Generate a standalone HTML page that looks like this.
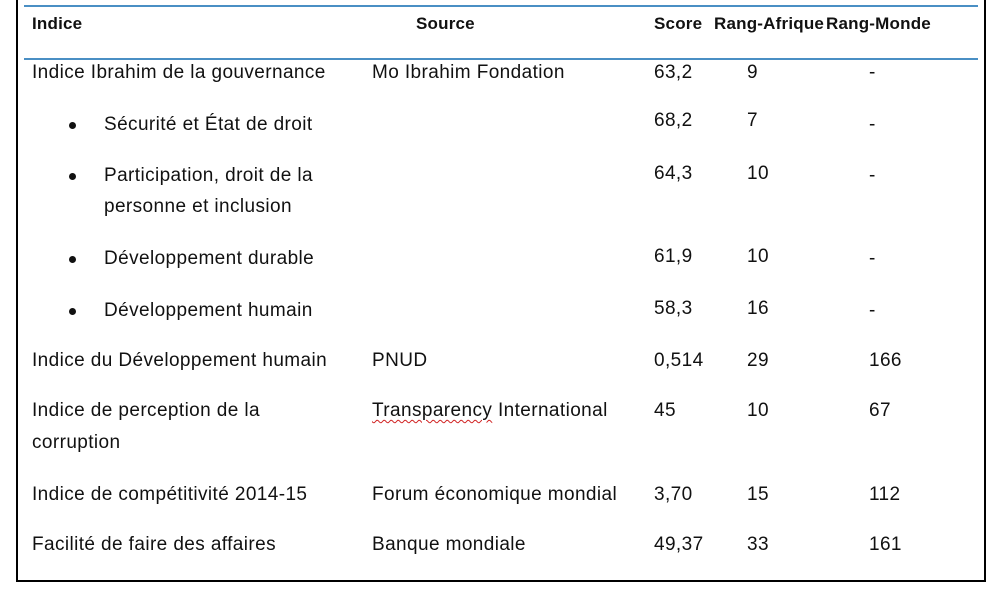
<!DOCTYPE html>
<html><head><meta charset="utf-8"><style>
body{margin:0;width:990px;height:594px;background:#fff;position:relative;overflow:hidden;font-family:"Liberation Sans",Arial,sans-serif;color:#111}
.frame{position:absolute;left:16px;top:-4px;width:966px;height:584px;border:2px solid #000;border-top:none}
.hl{position:absolute;left:24px;width:954px;height:2px;background:#4a8fc4}
.t{position:absolute;font-size:19px;letter-spacing:0.4px;line-height:22px;white-space:nowrap;transform:translateY(-11px)}
.h{font-weight:bold;font-size:17px;letter-spacing:0.2px}
.b{position:absolute;width:7px;height:7px;border-radius:50%;background:#111}
.sq{text-decoration:underline wavy #d02020;text-decoration-thickness:1px;text-underline-offset:3px}
</style></head><body>
<div class="frame"></div>
<div class="hl" style="top:5px"></div>
<div class="hl" style="top:58px"></div>

<div class="t h" style="left:32px;top:24px">Indice</div>
<div class="t h" style="left:416px;top:24px">Source</div>
<div class="t h" style="left:654px;top:24px">Score</div>
<div class="t h" style="left:714px;top:24px">Rang-Afrique</div>
<div class="t h" style="left:826px;top:24px">Rang-Monde</div>

<div class="t" style="left:32px;top:73px">Indice Ibrahim de la gouvernance</div>
<div class="t" style="left:372px;top:73px">Mo Ibrahim Fondation</div>
<div class="t" style="left:654px;top:73px">63,2</div>
<div class="t" style="left:747px;top:73px">9</div>
<div class="t" style="left:869px;top:73px">-</div>

<div class="b" style="left:69px;top:122px"></div>
<div class="t" style="left:104px;top:125px">Sécurité et État de droit</div>
<div class="t" style="left:654px;top:121px">68,2</div>
<div class="t" style="left:747px;top:121px">7</div>
<div class="t" style="left:869px;top:125px">-</div>

<div class="b" style="left:69px;top:173px"></div>
<div class="t" style="left:104px;top:176px">Participation, droit de la</div>
<div class="t" style="left:104px;top:207px">personne et inclusion</div>
<div class="t" style="left:654px;top:174px">64,3</div>
<div class="t" style="left:747px;top:174px">10</div>
<div class="t" style="left:869px;top:176px">-</div>

<div class="b" style="left:69px;top:256px"></div>
<div class="t" style="left:104px;top:259px">Développement durable</div>
<div class="t" style="left:654px;top:257px">61,9</div>
<div class="t" style="left:747px;top:257px">10</div>
<div class="t" style="left:869px;top:259px">-</div>

<div class="b" style="left:69px;top:308px"></div>
<div class="t" style="left:104px;top:311px">Développement humain</div>
<div class="t" style="left:654px;top:309px">58,3</div>
<div class="t" style="left:747px;top:309px">16</div>
<div class="t" style="left:869px;top:311px">-</div>

<div class="t" style="left:32px;top:361px">Indice du Développement humain</div>
<div class="t" style="left:372px;top:361px">PNUD</div>
<div class="t" style="left:654px;top:361px">0,514</div>
<div class="t" style="left:747px;top:361px">29</div>
<div class="t" style="left:869px;top:361px">166</div>

<div class="t" style="left:32px;top:411px">Indice de perception de la</div>
<div class="t" style="left:32px;top:443px">corruption</div>
<div class="t" style="left:372px;top:411px"><span class="sq">Transparency</span> International</div>
<div class="t" style="left:654px;top:411px">45</div>
<div class="t" style="left:747px;top:411px">10</div>
<div class="t" style="left:869px;top:411px">67</div>

<div class="t" style="left:32px;top:495px">Indice de compétitivité 2014-15</div>
<div class="t" style="left:372px;top:495px">Forum économique mondial</div>
<div class="t" style="left:654px;top:495px">3,70</div>
<div class="t" style="left:747px;top:495px">15</div>
<div class="t" style="left:869px;top:495px">112</div>

<div class="t" style="left:32px;top:545px">Facilité de faire des affaires</div>
<div class="t" style="left:372px;top:545px">Banque mondiale</div>
<div class="t" style="left:654px;top:545px">49,37</div>
<div class="t" style="left:747px;top:545px">33</div>
<div class="t" style="left:869px;top:545px">161</div>
</body></html>
